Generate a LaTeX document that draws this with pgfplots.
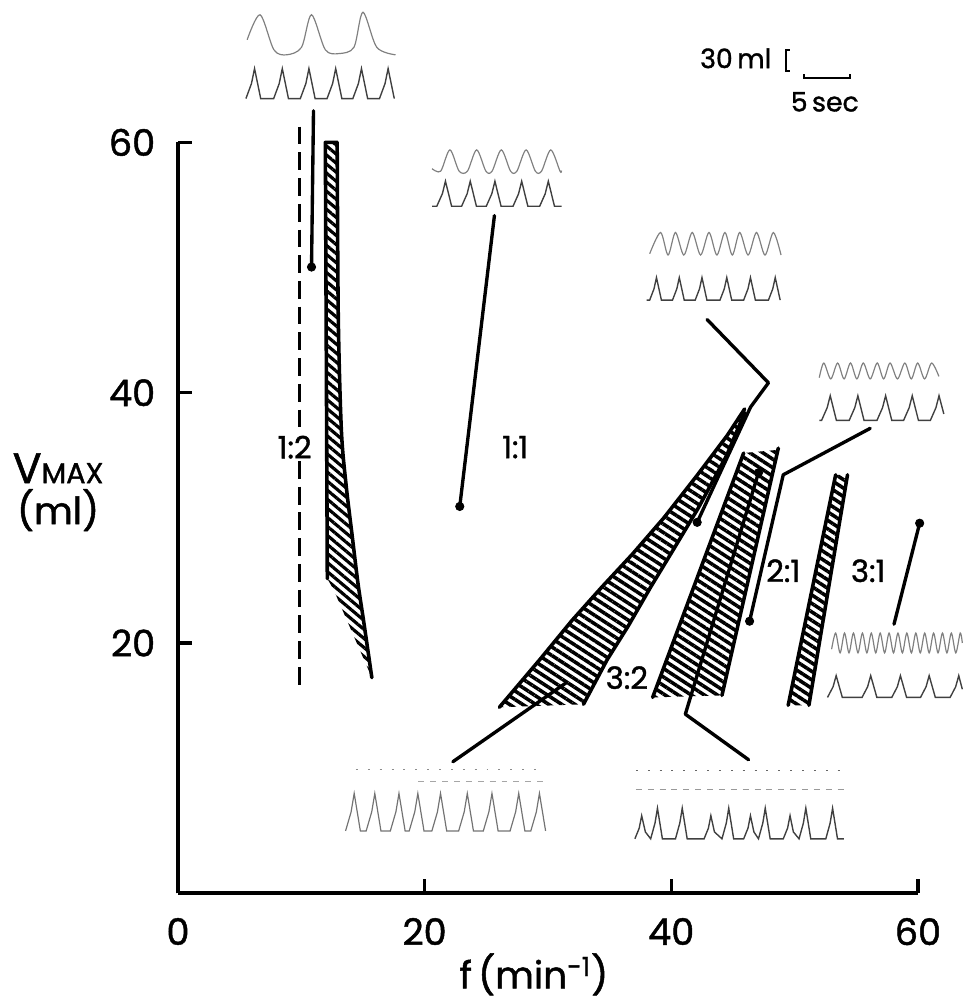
\documentclass[border=0pt]{standalone}
\usepackage{fontspec}
\setmainfont{Poppins}[FakeBold=1.3]
\usepackage{pgfplots}
\pgfplotsset{compat=1.18}
\usetikzlibrary{patterns.meta}
\begin{document}
\begin{tikzpicture}
\begin{axis}[
  scale only axis, width=374pt, height=379.5pt,
  xmin=0, xmax=60, ymin=0, ymax=60,
  clip=false,
  axis x line=bottom, axis y line=left,
  axis line style={-, line width=2pt},
  xtick={0,20,40,60}, ytick={20,40,60},
  tick align=inside, major tick length=7pt,
  every tick/.style={black, line width=1.6pt},
  /pgf/number format/assume math mode=true,
  ticklabel style={font=\fontsize{18.5}{21}\selectfont},
  xticklabel style={yshift=-9pt},
  yticklabel style={xshift=-8pt},
  xlabel={f\,(min\textsuperscript{-1})},
  every axis x label/.style={at={(axis description cs:0.481,-0.108)}, anchor=center, font=\fontsize{19}{22}\selectfont},
  ylabel={{\fontsize{21.5}{21.5}\selectfont V}{\fontsize{14.5}{15}\selectfont MAX}\\[2pt]{\fontsize{19}{21}\selectfont (ml)}},
  every axis y label/.style={at={(axis description cs:-0.162,0.534)}, anchor=center, align=center},
  wave/.style={black!50, line width=0.6pt},
  wavel/.style={black!75, line width=0.7pt},
  border/.style={black, line width=1.8pt, line cap=round, line join=round},
  lead/.style={black, line width=1.7pt, line cap=round, line join=round},
]
% fixed picture extent
\path (axis cs:-14.43,-7.83) rectangle (axis cs:63.67,71.38);

% ---- 1:2 region ----
\addplot[black, line width=1.6pt, dash pattern=on 9pt off 4pt] coordinates {(9.86,61.26) (9.86,16.6)};
\addplot[draw=none, pattern={Lines[angle=-40,distance=3.5pt,line width=1.6pt]}] coordinates {(11.95,60) (12.91,60) (13.0,46) (13.25,37) (13.63,32.65) (14.11,28.7) (14.6,24.74) (15.08,21.58) (15.72,17.23) (12.6,24.3) (12.11,25.14)} -- cycle;
\addplot[border, smooth] coordinates {(12.91,60) (13.0,46) (13.25,37) (13.63,32.65) (14.11,28.7) (14.6,24.74) (15.08,21.58) (15.72,17.23)};
\addplot[border] coordinates {(12.91,60) (11.95,60) (12.11,25.14)};

% ---- 3:2 wide band ----
\addplot[draw=none, pattern={Lines[angle=-33,distance=3.6pt,line width=1.8pt]}] coordinates {(26.06,14.86) (29.33,18.66) (31.95,21.8) (34.4,24.5) (36.85,27.1) (39.4,30.0) (42.1,33.4) (44.55,36.6) (45.95,38.7) (45.95,38.4) (44.5,35.0) (42.2,30.8) (40.3,27.67) (38.35,24.5) (36.5,21.34) (34.8,18.66) (32.88,15.1)} -- cycle;
\addplot[border] coordinates {(26.06,14.86) (29.33,18.66) (31.95,21.8) (34.4,24.5) (36.85,27.1) (39.4,30.0) (42.1,33.4) (44.55,36.6) (45.95,38.7)};
\addplot[border] coordinates {(32.88,15.1) (34.8,18.66) (36.5,21.34) (38.35,24.5) (40.3,27.67) (42.2,30.8) (44.5,35.0) (45.95,38.4)};

% ---- second band (3:2 / 2:1) ----
\addplot[draw=none, pattern={Lines[angle=-33,distance=3.6pt,line width=1.8pt]}] coordinates {(38.49,15.65) (45.87,35.18) (48.52,35.42) (44.11,15.81)} -- cycle;
\addplot[border] coordinates {(38.49,15.65) (45.87,35.18)};
\addplot[border] coordinates {(48.68,35.57) (44.11,15.81)};

% ---- 3:1 band ----
\addplot[draw=none, pattern={Lines[angle=-33,distance=3.6pt,line width=1.8pt]}] coordinates {(49.48,15.02) (53.33,33.44) (54.29,33.44) (51.16,15.02)} -- cycle;
\addplot[border] coordinates {(49.48,15.02) (53.33,33.44)};
\addplot[border] coordinates {(51.16,15.02) (54.29,33.44)};

% ---- leader lines ----
\addplot[lead] coordinates {(10.99,62.53) (10.83,50.04)};
\addplot[lead] coordinates {(25.66,54.15) (22.85,30.91)};
\addplot[lead] coordinates {(42.9,45.85) (47.88,40.79) (46.43,38.85) (42.1,29.64)};
\addplot[lead] coordinates {(56.13,37.15) (49.08,33.44) (46.35,21.74)};
\addplot[lead] coordinates {(60.14,29.57) (58.06,21.5)};
\addplot[lead] coordinates {(22.29,10.51) (31.51,16.84)};
\addplot[lead] coordinates {(46.27,10.67) (41.14,14.31) (47.07,33.6)};
\addplot[only marks, mark=*, mark size=2.1pt, black] coordinates {(10.83,50.04) (22.85,30.91) (42.1,29.64) (46.35,21.74) (60.14,29.57) (47.07,33.6)};

% ---- ratio labels ----
\node[font=\fontsize{15.5}{17}\selectfont, fill=white, inner sep=1pt] at (axis cs:9.46,35.65) {1:2};
\node[font=\fontsize{15.5}{17}\selectfont] at (axis cs:27.35,35.65) {1:1};
\node[font=\fontsize{15.5}{17}\selectfont] at (axis cs:36.4,17.23) {3:2};
\node[font=\fontsize{15.5}{17}\selectfont] at (axis cs:49.08,25.77) {2:1};
\node[font=\fontsize{15.5}{17}\selectfont] at (axis cs:55.97,25.77) {3:1};

% ---- scale bar ----
\node[font=\fontsize{13.5}{15}\selectfont] at (axis cs:45.23,66.72) {30\,ml};
\addplot[black, line width=0.9pt] coordinates {(49.62,67.4) (49.32,67.4) (49.32,65.7) (49.62,65.7)};
\addplot[black, line width=0.9pt] coordinates {(50.76,65.45) (50.76,65.14) (54.49,65.14) (54.49,65.45)};
\node[font=\fontsize{13.5}{15}\selectfont] at (axis cs:52.45,63.24) {5\,sec};

% ---- inset A ----
\addplot[wave, smooth] coordinates {(5.61,68.2) (6.66,70.2) (7.78,67.4) (8.82,67.0) (10.02,67.6) (10.83,70.2) (11.95,67.4) (13.07,67.1) (14.27,67.6) (15.0,70.4) (16.12,67.6) (17.64,67.0)};
\addplot[wavel] coordinates {(5.51,63.5) (5.96,64.7) (6.21,65.9) (6.71,63.5) (7.76,63.5) (8.21,64.7) (8.46,65.9) (8.96,63.5) (9.92,63.5) (10.37,64.7) (10.62,65.9) (11.12,63.5) (12.09,63.5) (12.54,64.7) (12.79,65.9) (13.29,63.5) (14.18,63.5) (14.63,64.7) (14.88,65.9) (15.38,63.5) (16.34,63.5) (16.79,64.7) (17.04,65.9) (17.54,63.5)};
% ---- inset B ----
\addplot[wave, smooth] coordinates {(20.6,57.9) (21.3,57.7) (22.05,59.4) (22.8,57.7) (23.47,57.7) (24.22,59.4) (24.97,57.7) (25.47,57.7) (26.22,59.4) (26.97,57.7) (27.48,57.7) (28.23,59.4) (28.98,57.7) (29.48,57.7) (30.23,59.4) (30.98,57.7) (31.1,57.75)};
\addplot[wavel] coordinates {(20.6,54.9) (20.99,54.9) (21.44,55.9) (21.69,56.9) (22.19,54.9) (23.0,54.9) (23.45,55.9) (23.7,56.9) (24.2,54.9) (25.0,54.9) (25.45,55.9) (25.7,56.9) (26.2,54.9) (27.17,54.9) (27.62,55.9) (27.87,56.9) (28.37,54.9) (29.33,54.9) (29.78,55.9) (30.03,56.9) (30.53,54.9) (31.1,54.9)};
% ---- inset C ----
\addplot[wave, smooth] coordinates {(38.25,51.1) (39.13,52.8) (39.74,51.0) (40.34,52.8) (41.02,51.0) (41.7,52.8) (42.38,51.0) (43.06,52.8) (43.7,51.0) (44.35,52.8) (44.95,51.0) (45.55,52.8) (46.23,51.0) (46.91,52.8) (47.6,51.0) (48.28,52.8) (48.9,51.0)};
\addplot[wavel] coordinates {(38.0,47.4) (38.25,47.4) (38.6,48.3) (38.8,49.2) (39.2,47.4) (40.1,47.4) (40.45,48.3) (40.65,49.2) (41.05,47.4) (41.94,47.4) (42.29,48.3) (42.49,49.2) (42.89,47.4) (43.95,47.4) (44.3,48.3) (44.5,49.2) (44.9,47.4) (45.87,47.4) (46.22,48.3) (46.42,49.2) (46.82,47.4) (47.88,47.4) (48.23,48.3) (48.43,49.2) (48.83,47.4)};
% ---- inset D ----
\addplot[wave, smooth] coordinates {(52.0,41.2) (52.37,42.37) (52.93,41.1) (53.49,42.37) (54.01,41.1) (54.53,42.37) (55.05,41.1) (55.57,42.37) (56.13,41.1) (56.7,42.37) (57.22,41.1) (57.74,42.37) (58.34,41.1) (58.94,42.37) (59.46,41.1) (59.98,42.37) (60.54,41.1) (61.11,42.37) (61.7,41.3)};
\addplot[wavel] coordinates {(52.0,37.79) (52.19,37.79) (52.64,38.8) (52.89,39.76) (53.39,37.79) (54.43,37.79) (54.88,38.8) (55.13,39.76) (55.63,37.79) (56.68,37.79) (57.13,38.8) (57.38,39.76) (57.88,37.79) (58.84,37.79) (59.29,38.8) (59.54,39.76) (60.04,37.79) (61.01,37.79) (61.46,38.8) (61.71,39.76) (62.1,38.3)};
% ---- inset E ----
\addplot[wave, smooth] coordinates {(53.0,19.5) (53.33,20.79) (53.69,19.21) (54.05,20.79) (54.41,19.21) (54.77,20.79) (55.14,19.21) (55.5,20.79) (55.86,19.21) (56.22,20.79) (56.58,19.21) (56.94,20.79) (57.3,19.21) (57.66,20.79) (58.02,19.21) (58.38,20.79) (58.74,19.21) (59.1,20.79) (59.47,19.21) (59.83,20.79) (60.19,19.21) (60.55,20.79) (60.91,19.21) (61.27,20.79) (61.63,19.21) (61.99,20.79) (62.35,19.21) (62.71,20.79) (63.07,19.21) (63.43,20.79) (63.6,20.0)};
\addplot[wavel] coordinates {(52.67,15.65) (53.12,16.5) (53.37,17.39) (53.87,15.65) (55.47,15.65) (55.92,16.5) (56.17,17.39) (56.67,15.65) (57.88,15.65) (58.33,16.5) (58.58,17.39) (59.08,15.65) (60.21,15.65) (60.66,16.5) (60.91,17.39) (61.41,15.65) (62.61,15.65) (63.06,16.5) (63.31,17.39) (63.6,16.3)};
% ---- inset F ----
\addplot[black!45, line width=0.8pt, dash pattern=on 1pt off 5pt] coordinates {(14.43,9.88) (29.67,9.88)};
\addplot[black!35, line width=0.6pt, dash pattern=on 3pt off 3pt] coordinates {(19.5,8.93) (29.9,8.93)};
\addplot[black!55, line width=0.6pt] coordinates {(13.59,4.98) (14.04,6.5) (14.29,7.98) (14.79,4.98) (15.26,4.98) (15.71,6.5) (15.96,7.98) (16.46,4.98) (17.22,4.98) (17.67,6.5) (17.92,7.98) (18.42,4.98) (18.75,4.98) (19.2,6.5) (19.45,7.98) (19.95,4.98) (20.59,4.98) (21.04,6.5) (21.29,7.98) (21.79,4.98) (22.76,4.98) (23.21,6.5) (23.46,7.98) (23.96,4.98) (24.76,4.98) (25.21,6.5) (25.46,7.98) (25.96,4.98) (26.93,4.98) (27.38,6.5) (27.63,7.98) (28.13,4.98) (28.61,4.98) (29.06,6.5) (29.31,7.98) (29.81,4.98)};
% ---- inset G ----
\addplot[black!60, line width=0.8pt, dash pattern=on 1pt off 5pt] coordinates {(37.13,9.8) (53.97,9.8)};
\addplot[black!40, line width=0.6pt, dash pattern=on 3pt off 3pt] coordinates {(37.13,8.3) (53.97,8.3)};
\addplot[wavel] coordinates {(37.05,4.35) (37.4,5.2) (37.6,6.2) (37.9,4.9) (38.33,4.35) (38.68,5.6) (38.88,6.8) (39.28,4.35) (40.34,4.35) (40.69,5.6) (40.89,6.8) (41.29,4.35) (42.66,4.35) (43.01,5.2) (43.21,6.2) (43.5,4.9) (44.11,4.35) (44.46,5.6) (44.66,6.8) (45.06,4.35) (45.87,4.35) (46.22,5.2) (46.42,6.2) (46.7,4.9) (47.07,4.35) (47.42,5.6) (47.62,6.8) (48.02,4.35) (49.08,4.35) (49.43,5.2) (49.63,6.2) (49.9,4.9) (50.36,4.35) (50.71,5.6) (50.91,6.8) (51.31,4.35) (52.53,4.35) (52.88,5.6) (53.08,6.8) (53.48,4.35) (54.0,4.35)};
\end{axis}
\end{tikzpicture}
\end{document}
